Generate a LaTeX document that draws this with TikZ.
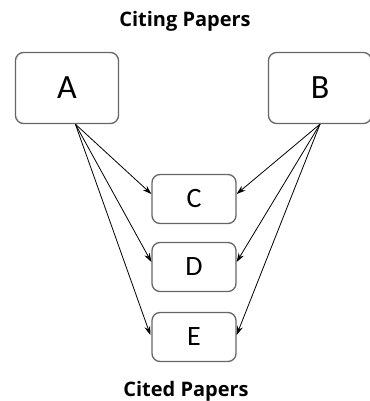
\documentclass[tikz,border=0pt]{standalone}
\usepackage{fontspec}
\setmainfont{Carlito}
\newfontfamily\headfont{Open Sans}
\usepackage{tikz}
\usetikzlibrary{positioning, calc, arrows.meta}

\begin{document}
\begin{tikzpicture}[x=1pt, y=-1pt, >={Stealth[length=9pt,width=6pt]}]
    \useasboundingbox (0,0) rectangle (369,401);

    % Box styles
    \tikzset{
        paper/.style={draw=gray!80!black, line width=1.3pt, rounded corners=8pt,
                      fill=white, inner sep=0pt},
        citing/.style={paper, minimum width=103pt, minimum height=71pt, font=\fontsize{34}{34}\selectfont},
        cited/.style={paper, minimum width=84pt, minimum height=49pt, font=\fontsize{28}{28}\selectfont},
        heading/.style={font=\headfont\bfseries\fontsize{20}{20}\selectfont, anchor=base},
        cite/.style={->, line width=0.8pt, black}
    }

    % Headings
    \node[heading] (top) at (185,27) {Citing Papers};
    \node[heading] (bottom) at (186,396) {Cited Papers};

    % Citing papers
    \node[citing] (A) at (67,88) {A};
    \node[citing] (B) at (320,88) {B};

    % Cited papers
    \node[cited] (C) at (194,199) {C};
    \node[cited] (D) at (194,267) {D};
    \node[cited] (E) at (194,337) {E};

    % Citations from A
    \draw[cite] (A.283) -- ($(C.west)+(0,-5)$);
    \draw[cite] (A.283) -- ($(D.west)+(0,-5)$);
    \draw[cite] (A.283) -- ($(E.west)+(-1,-2)$);

    % Citations from B
    \draw[cite] (B.south) -- ($(C.east)+(0,-5)$);
    \draw[cite] (B.south) -- ($(D.east)+(0,-5)$);
    \draw[cite] (B.south) -- ($(E.east)+(0,-2)$);

\end{tikzpicture}
\end{document}
